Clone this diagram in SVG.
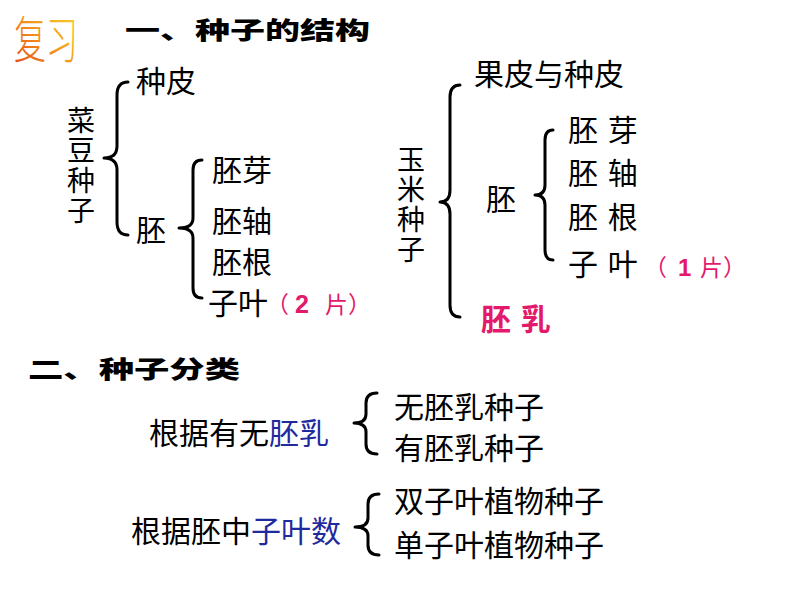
<svg xmlns="http://www.w3.org/2000/svg" width="794" height="596" viewBox="0 0 794 596">
<defs>
<linearGradient id="gold" x1="0" y1="1" x2="1" y2="0">
<stop offset="0" stop-color="#e8401a"/>
<stop offset="0.5" stop-color="#f39a1c"/>
<stop offset="1" stop-color="#f8e030"/>
</linearGradient>
<style>
text{font-family:"Noto Sans CJK SC","Liberation Sans",sans-serif;fill:#000;}
.t{font-size:30px;}
.v{font-size:28px;writing-mode:vertical-rl;text-orientation:upright;letter-spacing:2px;}
.h{font-size:24px;font-weight:900;}
.red{fill:#e3196c;}
.blue{fill:#1f2a9e;}
.sm{font-size:23px;}
.br{fill:none;stroke:#000;stroke-width:3;stroke-linecap:round;stroke-linejoin:round;}
</style>
</defs>
<rect width="794" height="596" fill="#fff"/>
<g id="title">
<text x="14" y="58" style="font-size:50px;font-weight:300;fill:url(#gold)" textLength="64" lengthAdjust="spacingAndGlyphs">复习</text>
<text class="h" x="125" y="39" textLength="245" lengthAdjust="spacingAndGlyphs">一、种子的结构</text>
</g>
<g id="connectors">
<path class="br" d="M128,82 Q117,82 117,95 L117,146 Q117,158 104,158 Q117,158 117,170 L117,222 Q117,235 128,235"/>
<path class="br" d="M202,160 Q193,160 193,170 L193,218 Q193,228 179,228 Q193,228 193,238 L193,288 Q193,298 202,298"/>
<path class="br" d="M460,85 Q450,85 450,97 L450,190 Q450,202 440,202 Q450,202 450,214 L450,305 Q450,317 460,317"/>
<path class="br" d="M553,130 Q545,130 545,140 L545,185 Q545,195 535,195 Q545,195 545,205 L545,250 Q545,260 553,260"/>
<path class="br" d="M377,393 Q366,393 366,403 L366,414 Q366,423 354,423 Q366,423 366,432 L366,444 Q366,454 377,454"/>
<path class="br" d="M379,494 Q368,494 368,504 L368,518 Q368,527 355,527 Q368,527 368,536 L368,545 Q368,555 379,555"/>
</g>
<g id="bean"><text class="v" x="81" y="106">菜豆种子</text></g>
<g id="bean-coat"><text class="t" x="136" y="92">种皮</text></g>
<g id="bean-embryo"><text class="t" x="136" y="241">胚</text></g>
<g id="bean-plumule"><text class="t" x="212" y="181">胚芽</text></g>
<g id="bean-hypocotyl"><text class="t" x="212" y="232">胚轴</text></g>
<g id="bean-radicle"><text class="t" x="212" y="273">胚根</text></g>
<g id="bean-cotyledon">
<text class="t" x="208" y="314">子叶</text>
<text class="red sm" y="313"><tspan x="266">（</tspan><tspan x="295" style="font-family:'Liberation Sans',sans-serif;font-weight:bold;font-size:25px">2</tspan><tspan x="325">片）</tspan></text>
</g>
<g id="corn"><text class="v" x="411" y="145">玉米种子</text></g>
<g id="corn-coat"><text class="t" x="474" y="85">果皮与种皮</text></g>
<g id="corn-embryo"><text class="t" x="486" y="210">胚</text></g>
<g id="corn-plumule"><text class="t" x="568" y="141" style="word-spacing:3px">胚 芽</text></g>
<g id="corn-hypocotyl"><text class="t" x="568" y="184" style="word-spacing:3px">胚 轴</text></g>
<g id="corn-radicle"><text class="t" x="568" y="228" style="word-spacing:3px">胚 根</text></g>
<g id="corn-cotyledon">
<text class="t" x="568" y="275" style="word-spacing:3px">子 叶</text>
<text class="red sm" y="276"><tspan x="644">（</tspan><tspan x="678" style="font-family:'Liberation Sans',sans-serif;font-weight:bold;font-size:24px">1</tspan><tspan x="700">片）</tspan></text>
</g>
<g id="corn-endosperm"><text class="t red" x="481" y="330" style="font-weight:bold;word-spacing:3px">胚 乳</text></g>
<g id="title2"><text class="h" x="28" y="378" textLength="212" lengthAdjust="spacingAndGlyphs">二、种子分类</text></g>
<g id="by-endosperm"><text class="t" x="149" y="444">根据有无<tspan class="blue">胚乳</tspan></text></g>
<g id="no-endosperm"><text class="t" x="394" y="418">无胚乳种子</text></g>
<g id="with-endosperm"><text class="t" x="394" y="459">有胚乳种子</text></g>
<g id="by-cotyledon"><text class="t" x="131" y="542">根据胚中<tspan class="blue">子叶数</tspan></text></g>
<g id="dicot"><text class="t" x="394" y="512">双子叶植物种子</text></g>
<g id="monocot"><text class="t" x="394" y="556">单子叶植物种子</text></g>
</svg>
